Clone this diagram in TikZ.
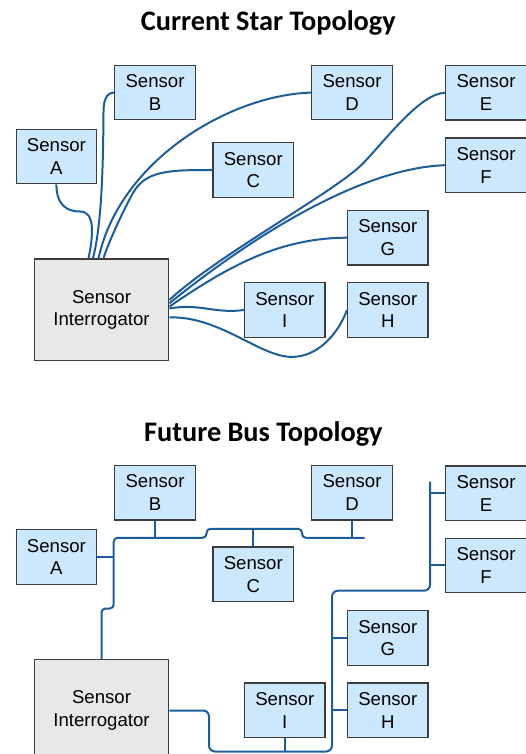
\documentclass[tikz,border=0pt]{standalone}
\usepackage{fontspec}
\setmainfont{Liberation Sans}
\newfontfamily\titlefont{Carlito}
\usetikzlibrary{calc}
\definecolor{sensorfill}{HTML}{CCE8FF}
\definecolor{boxedge}{HTML}{3C3C3C}
\definecolor{hubfill}{HTML}{E8E8E8}
\definecolor{wireblue}{HTML}{1C5D9C}

\begin{document}
\begin{tikzpicture}[x=1pt,y=-1pt,
  sensor/.style={draw=boxedge, line width=1.3pt, fill=sensorfill,
    minimum width=80.5pt, minimum height=54.5pt, inner sep=0pt,
    align=center, font=\fontsize{18.6}{22.7}\selectfont},
  hub/.style={sensor, fill=hubfill, minimum width=134.5pt, minimum height=101.6pt},
  wire/.style={draw=wireblue, line width=2pt},
  title/.style={font=\titlefont\bfseries\fontsize{28.3}{32}\selectfont, anchor=base}]

\useasboundingbox (0,0) rectangle (526,754);
\clip (0,0) rectangle (526,754);

% ---------- star topology ----------
\node[title] (t1) at (268.3,31) {Current Star Topology};

\node[sensor] (a1) at (56.4,156.5) {Sensor\\A};
\node[sensor] (b1) at (155,92.6) {Sensor\\B};
\node[sensor] (c1) at (253.3,170.1) {Sensor\\C};
\node[sensor] (d1) at (352,92.6) {Sensor\\D};
\node[sensor] (e1) at (486,92.8) {Sensor\\E};
\node[sensor] (f1) at (486,165.2) {Sensor\\F};
\node[sensor] (g1) at (387.8,237.7) {Sensor\\G};
\node[sensor] (h1) at (387.8,310) {Sensor\\H};
\node[sensor] (i1) at (284.8,310) {Sensor\\I};
\node[hub] (s1) at (101.5,309.8) {Sensor\\Interrogator};

% cables leaving the top of the interrogator
\draw[wire] ($(s1.north)+(-13,0)$) .. controls (93.5,234) and (95,211.5) .. (80,211.5)
  .. controls (68,211.5) and (56.4,206.2) .. (a1.south);
\draw[wire] (b1.west) .. controls (105.7,92.6) and (103.5,102) .. (103.5,112)
  .. controls (103,190) and (100,230) .. ($(s1.north)+(-8.5,0)$);
\draw[wire] (d1.west) .. controls (230,95) and (120,160) .. ($(s1.north)+(-3,0)$);
\draw[wire] (c1.west) .. controls (165,169.6) and (145,172) .. (133,193)
  .. controls (125.5,206) and (107.5,244) .. ($(s1.north)+(2,0)$);

% cables leaving the right side of the interrogator
\draw[wire] ($(s1.east)+(0,-9.8)$) .. controls (215,257) and (334.3,192.1) .. (362.3,164.1)
  .. controls (382,144.4) and (420,92.8) .. (e1.west);
\draw[wire] ($(s1.east)+(0,-6.5)$) .. controls (250,238) and (360,168) .. (f1.west);
\draw[wire] ($(s1.east)+(0,-3.2)$) .. controls (230,265) and (280,238) .. (g1.west);
\draw[wire] ($(s1.east)+(0,-1.3)$) .. controls (200,303) and (215,314) .. (i1.west);
\draw[wire] ($(s1.east)+(0,7.6)$) .. controls (220,316) and (260,357) .. (291.8,356.9)
  .. controls (320,357) and (340,330) .. (h1.west);

% ---------- bus topology ----------
\node[title] (t2) at (263.3,441.5) {Future Bus Topology};

\node[sensor] (a2) at (56.4,557) {Sensor\\A};
\node[sensor] (b2) at (155,492.6) {Sensor\\B};
\node[sensor] (c2) at (253.3,574.3) {Sensor\\C};
\node[sensor] (d2) at (352,492.6) {Sensor\\D};
\node[sensor] (e2) at (486,493.3) {Sensor\\E};
\node[sensor] (f2) at (486,565.4) {Sensor\\F};
\node[sensor] (g2) at (387.8,638) {Sensor\\G};
\node[sensor] (h2) at (387.8,710.2) {Sensor\\H};
\node[sensor] (i2) at (284.8,710.2) {Sensor\\I};
\node[hub] (s2) at (101.5,710.5) {Sensor\\Interrogator};

% bus reference points
\coordinate (busL) at (113.7,537.8);
\coordinate (busU) at (206.5,528.8);
\coordinate (busR) at (430,590.7);
\coordinate (busM) at (332,751.5);

% upper-left bus
\draw[wire, rounded corners=4pt] (s2.north) -- (101.5,608.5) -- (113.7,608.5)
  -- (busL) -- (206.5,537.8) -- (busU) -- (302,528.8) -- (302,537.8) -- (364.5,537.8);
\draw[wire] (a2.east) -- (a2.east -| busL);
\draw[wire] (b2.south) -- (b2.south |- busL);
\draw[wire] (c2.north) -- (c2.north |- busU);
\draw[wire] (d2.south) -- (d2.south |- busL);

% lower-right bus
\draw[wire, rounded corners=6pt] (s2.east) -- (209,710.5) -- (209,751.5) -- (busM)
  -- (332,590.7) -- (busR) -- (430,481.7);
\draw[wire] (e2.west) -- (e2.west -| busR);
\draw[wire] (f2.west) -- (f2.west -| busR);
\draw[wire] (g2.west) -- (g2.west -| busM);
\draw[wire] (h2.west) -- (h2.west -| busM);
\draw[wire] (i2.south) -- (i2.south |- busM);
\end{tikzpicture}
\end{document}
